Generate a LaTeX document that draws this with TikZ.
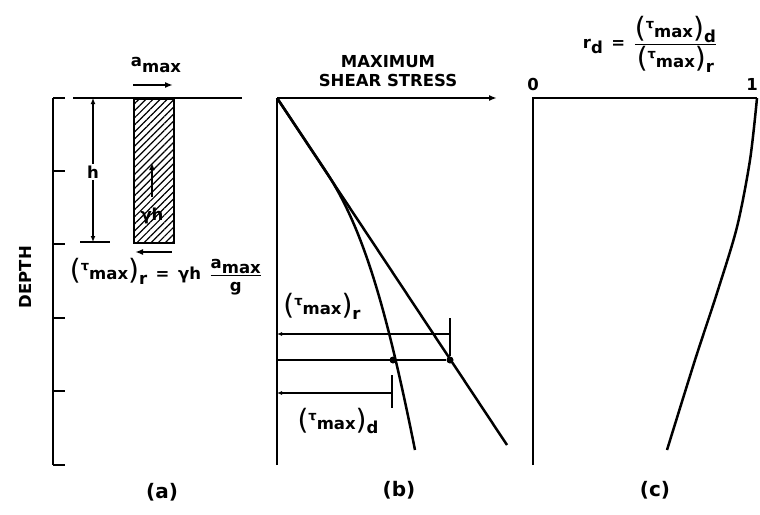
\documentclass[tikz,border=0pt]{standalone}
\usepackage{fontspec}
\setmainfont{DejaVu Sans}
\usetikzlibrary{arrows.meta, patterns.meta, positioning, calc}

\newcommand{\lowr}[1]{\raisebox{-0.55ex}{#1}}
\newcommand{\bigpar}[1]{{\fontsize{28}{28}\selectfont\mdseries #1}}
\newcommand{\taumax}[1]{\bigpar{(}\raisebox{1.0ex}{\fontsize{13}{13}\selectfont τ}max\bigpar{)}\lowr{#1}}

\begin{document}
\begin{tikzpicture}[
      x=1pt, y=-1pt,
      font=\fontsize{16.5}{19}\selectfont\bfseries,
      axis/.style = {line width=2.5pt},
      thinline/.style = {line width=1.5pt},
      tickmark/.style = {line width=1.8pt},
      arrow/.style = {line width=2.5pt, -{Latex[length=8pt, width=6pt]}},
      revarrow/.style = {line width=2.5pt, {Latex[length=8pt, width=6pt]}-},
      dimline/.style = {line width=1.5pt, {Latex[length=5pt, width=4pt]}-},
      hdim/.style = {line width=1.8pt, {Latex[length=6pt, width=5pt]}-{Latex[length=6pt, width=5pt]}},
      dot/.style = {circle, fill=black, inner sep=0pt, minimum size=7pt},
      caption/.style = {font=\fontsize{20}{22}\selectfont\bfseries},
      soil/.style = {draw, line width=2pt, inner sep=0pt, minimum width=40pt, minimum height=144pt,
                     pattern={Lines[angle=45, distance=5pt, line width=1.2pt]}}
    ]
      \useasboundingbox (0,0) rectangle (760,514);

      % --- (a): SOIL COLUMN ---
      \coordinate (atop) at (53,98);
      \coordinate (abot) at (53,465);
      \draw [axis] (atop) -- (abot);
      \foreach \y in {98,171,244,318,391,465}
        \draw [tickmark] (53,\y) -- (65,\y);
      \node [rotate=90] (depth) at (25,277) {DEPTH};

      \coordinate (gl) at (73,98);
      \coordinate (gr) at (242,98);
      \draw [axis] (gl) -- (gr);

      \node [soil, anchor=north west] (col) at (133,98) {};
      \draw [line width=2.5pt, -{Latex[length=7pt, width=6pt]}] (152,197) -- (152,163);
      \node (wgt) at (152,216) {γh};

      \coordinate (al) at (133,85);
      \coordinate (ar) at (173,85);
      \draw [arrow] (al) -- (ar);
      \node (amax) at (156,65) {\raisebox{0.6ex}{a}max};
      \coordinate (rl) at (135,252);
      \coordinate (rr) at (172,252);
      \draw [revarrow] (rl) -- (rr);

      % dimension h
      \coordinate (htop) at (93,98);
      \coordinate (hbot) at (93,242);
      \draw [hdim] (htop) -- (hbot);
      \draw [thinline] (80,242) -- (110,242);
      \node [fill=white, inner sep=2pt] (hlbl) at (93,172) {h};

      \node (eqr) at (166,277) {\taumax{r} \,=\, γh\, $\displaystyle{\hbox{a\lowr{max}}\over\hbox{g}}$};
      \node [caption] (capa) at (162,492) {(a)};

      % --- (b): MAXIMUM SHEAR STRESS ---
      \coordinate (bo) at (277,98);
      \coordinate (bx) at (497,98);
      \coordinate (by) at (277,465);
      \draw [axis] (by) -- (bo);
      \draw [arrow] (bo) -- (bx);
      \node [align=center] (btitle) at (388,71) {MAXIMUM\\SHEAR STRESS};

      \coordinate (rend) at (507,445);
      \coordinate (dend) at (415,450);
      \draw [axis] (bo) -- (rend);
      \draw [axis] (bo) -- (325,170) .. controls (361,224) and (385,300) .. (dend);

      \node [dot] (pd) at (393,360) {};
      \node [dot] (pr) at (450,360) {};
      \draw [thinline] (277,360) -- (pr);
      \draw [dimline] (277,334) -- (450,334);
      \draw [thinline] (450,318) -- (pr);
      \draw [dimline] (277,393) -- (392,393);
      \draw [thinline] (392,375) -- (392,408);

      \node (taur) at (322,306) {\taumax{r}};
      \node (taud) at (338,421) {\taumax{d}};
      \node [caption] (capb) at (399,490) {(b)};

      % --- (c): STRESS REDUCTION FACTOR ---
      \coordinate (co) at (533,98);
      \coordinate (cy) at (533,465);
      \coordinate (cx) at (757,98);
      \draw [axis] (cy) -- (co) -- (cx);
      \node (zero) at (533,84) {0};
      \node (one) at (752,84) {1};
      \draw [axis] plot [smooth] coordinates {(757,98) (750,160) (737,227) (717,293) (695,360) (667,450)};

      \node (rd) at (650,44) {r\lowr{d} \,=\, $\displaystyle{\hbox{\taumax{d}}\over\hbox{\taumax{r}}}$};
      \node [caption] (capc) at (655,490) {(c)};

    \end{tikzpicture}
\end{document}
